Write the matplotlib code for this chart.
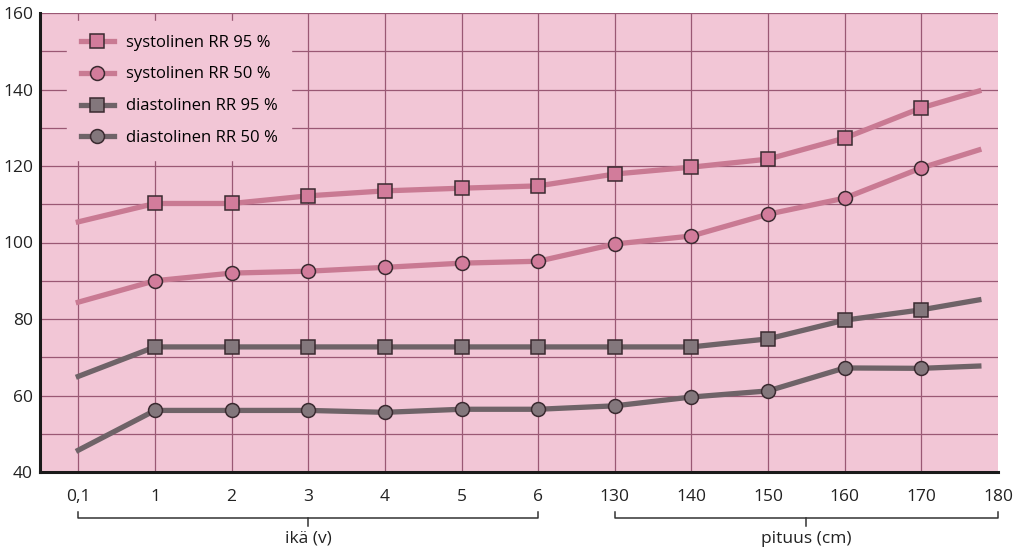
import numpy as np
import matplotlib
matplotlib.use('Agg')
import matplotlib.pyplot as plt
import matplotlib.transforms as mtransforms

plt.rcParams['font.family'] = ['Open Sans', 'DejaVu Sans']

# x-akselin luokat: ikä (v) ja pituus (cm)
tick_labels = ['0,1', '1', '2', '3', '4', '5', '6', '130', '140', '150', '160', '170', '180']
# viimeinen piste (ilman merkkiä) jatkuu lähes 180:een
x_pos = [0, 1, 2, 3, 4, 5, 6, 7, 8, 9, 10, 11, 11.75]

sys95 = [105.4, 110.2, 110.2, 112.2, 113.5, 114.2, 114.8, 117.9, 119.7, 121.8, 127.3, 135.2, 139.6]
sys50 = [84.4, 90.0, 92.0, 92.5, 93.5, 94.6, 95.1, 99.6, 101.7, 107.4, 111.6, 119.5, 124.2]
dia95 = [65.0, 72.7, 72.7, 72.7, 72.7, 72.7, 72.7, 72.7, 72.7, 74.8, 79.7, 82.4, 85.0]
dia50 = [45.7, 56.1, 56.1, 56.1, 55.6, 56.4, 56.4, 57.3, 59.6, 61.2, 67.2, 67.1, 67.7]

series = [
    ('systolinen RR 95 %', sys95, 's', '#c97a93', '#d27c9b'),
    ('systolinen RR 50 %', sys50, 'o', '#c97a93', '#d27c9b'),
    ('diastolinen RR 95 %', dia95, 's', '#6f6368', '#83777c'),
    ('diastolinen RR 50 %', dia50, 'o', '#6f6368', '#83777c'),
]

pink = '#f2c6d6'
gridc = '#9a5874'

fig = plt.figure(figsize=(10.23, 5.54), dpi=100)
ax = fig.add_axes([40 / 1023, 82 / 554, 958 / 1023, 459 / 554])
ax.set_facecolor(pink)

ax.set_xlim(-0.5, 12)
ax.set_ylim(40, 160)
ax.set_xticks(range(13))
ax.set_xticklabels(tick_labels)
ax.set_yticks(np.arange(40, 161, 20))
ax.set_yticks(np.arange(50, 160, 20), minor=True)
ax.tick_params(axis='both', which='both', length=0, labelsize=12.5, colors='#222222')
ax.tick_params(axis='x', pad=12)
ax.tick_params(axis='y', pad=5)

ax.grid(axis='y', which='both', color=gridc, lw=0.9, zorder=1)
ax.vlines(range(12), 40, 160, color=gridc, lw=0.9, zorder=1)
ax.set_axisbelow(True)

for sp in ['top', 'right']:
    ax.spines[sp].set_visible(False)
for sp in ['left', 'bottom']:
    ax.spines[sp].set_linewidth(2.2)
    ax.spines[sp].set_color('#1a1a1a')

for label, vals, mk, lc, fc in series:
    ax.plot(x_pos, vals, color=lc, lw=3.8, zorder=3, label=label,
            marker=mk, markevery=list(range(1, 12)), markersize=10,
            markerfacecolor=fc, markeredgecolor='#3a2a30', markeredgewidth=1.1)

leg = ax.legend(loc='upper left', bbox_to_anchor=(0.02, 1.0), frameon=True,
                facecolor=pink, edgecolor=pink, framealpha=1, fontsize=12,
                handlelength=2.0, labelspacing=0.95, borderpad=0.8,
                handletextpad=0.7)
leg.set_zorder(4)

# hakasulkeet x-akselin alla
trans = mtransforms.blended_transform_factory(ax.transData, ax.transAxes)
yb = -0.1
for x0, x1, text in [(0, 6, 'ikä (v)'), (7, 12, 'pituus (cm)')]:
    xm = (x0 + x1) / 2
    ax.plot([x0, x0, x1, x1], [yb + 0.013, yb, yb, yb + 0.013], color='#333333',
            lw=1.1, transform=trans, clip_on=False)
    ax.plot([xm, xm], [yb, yb - 0.017], color='#333333', lw=1.1,
            transform=trans, clip_on=False)
    ax.text(xm, yb - 0.045, text, transform=trans, ha='center', va='center',
            fontsize=12.5, color='#222222')

fig.savefig('out.png', dpi=100)
